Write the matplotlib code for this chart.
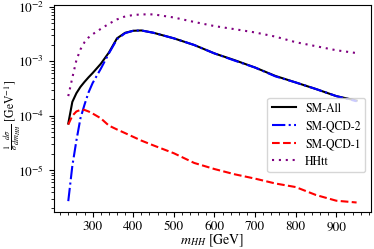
import numpy as np
import matplotlib
matplotlib.use("Agg")
import matplotlib.pyplot as plt
from matplotlib.ticker import MultipleLocator

plt.rcParams['font.family'] = 'serif'
plt.rcParams['font.serif'] = ['STIXGeneral', 'Liberation Serif', 'DejaVu Serif']
plt.rcParams['mathtext.fontset'] = 'stix'

# invariant mass bins (GeV)
m_hh = [240, 250, 260, 270, 280, 290, 300, 320, 340, 360, 380, 400, 420,
        450, 500, 550, 600, 650, 700, 750, 800, 850, 900, 950]

sm_all = [7.2e-5, 1.8e-4, 2.6e-4, 3.4e-4, 4.2e-4, 5.1e-4, 6.1e-4, 9.0e-4,
          1.45e-3, 2.65e-3, 3.35e-3, 3.65e-3, 3.7e-3, 3.35e-3, 2.65e-3,
          2.0e-3, 1.4e-3, 1.05e-3, 7.7e-4, 5.4e-4, 4.1e-4, 3.1e-4, 2.3e-4, 1.9e-4]

sm_qcd2 = [2.7e-6, 1.2e-5, 3.5e-5, 9.0e-5, 1.6e-4, 2.7e-4, 4.0e-4, 7.3e-4,
           1.4e-3, 2.55e-3, 3.3e-3, 3.65e-3, 3.7e-3, 3.35e-3, 2.65e-3,
           2.0e-3, 1.4e-3, 1.03e-3, 7.7e-4, 5.3e-4, 4.1e-4, 3.1e-4, 2.3e-4, 1.85e-4]

sm_qcd1 = [6.9e-5, 1.0e-4, 1.2e-4, 1.28e-4, 1.28e-4, 1.2e-4, 1.1e-4, 9.0e-5,
           6.6e-5, 5.6e-5, 4.8e-5, 4.1e-5, 3.5e-5, 2.85e-5, 2.05e-5, 1.36e-5,
           1.05e-5, 8.4e-6, 7.0e-6, 5.7e-6, 4.9e-6, 3.5e-6, 2.75e-6, 2.55e-6]

hhtt = [2.3e-4, 5.0e-4, 1.05e-3, 1.66e-3, 2.25e-3, 2.75e-3, 3.15e-3, 3.95e-3,
        4.9e-3, 5.9e-3, 6.7e-3, 7.1e-3, 7.3e-3, 7.3e-3, 6.4e-3, 5.3e-3,
        4.45e-3, 3.9e-3, 3.4e-3, 2.85e-3, 2.25e-3, 1.9e-3, 1.6e-3, 1.42e-3]

fig = plt.figure(figsize=(3.74, 2.49), dpi=100)
ax = fig.add_axes([0.144, 0.149, 0.848, 0.831])

ax.plot(m_hh, sm_all, color='black', lw=1.5, label='SM-All')
ax.plot(m_hh, sm_qcd2, color='blue', lw=1.5, ls='-.', label='SM-QCD-2')
ax.plot(m_hh, sm_qcd1, color='red', lw=1.5, ls='--', label='SM-QCD-1')
ax.plot(m_hh, hhtt, color='purple', lw=1.5, ls=(0, (1, 2.3)), label='HHtt')

ax.set_yscale('log')
ax.xaxis.set_major_locator(MultipleLocator(100))
ax.xaxis.set_minor_locator(MultipleLocator(20))
ax.tick_params(labelsize=9.5)

ax.set_xlabel(r'$m_{HH}$ [GeV]', fontsize=10)
ax.set_ylabel(r'$\frac{1}{\sigma}\frac{d\sigma}{dm_{HH}}$ [GeV$^{-1}$]', fontsize=8.5)
ax.xaxis.set_label_coords(0.5, -0.1)
ax.yaxis.set_label_coords(-0.098, 0.47)

ax.legend(loc='lower right', bbox_to_anchor=(0.99, 0.18), fontsize=8.5,
          borderaxespad=0.2, handlelength=2.0)

fig.savefig('out.png', dpi=100)
